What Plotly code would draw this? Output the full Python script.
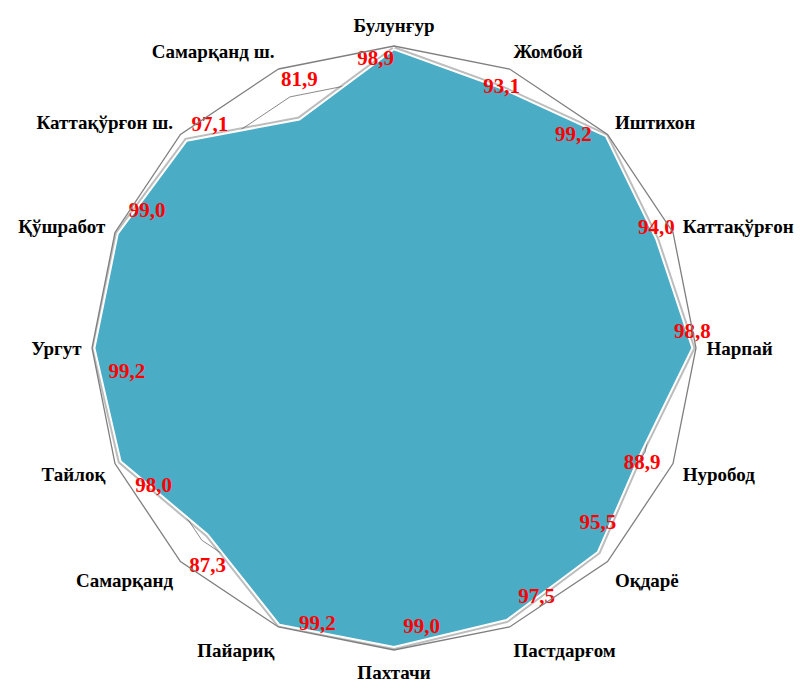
import plotly.graph_objects as go

categories = ["Булунғур", "Жомбой", "Иштихон", "Каттақўрғон", "Нарпай", "Нуробод",
              "Оқдарё", "Пастдарғом", "Пахтачи", "Пайариқ", "Самарқанд", "Тайлоқ",
              "Ургут", "Қўшработ", "Каттақўрғон ш.", "Самарқанд ш."]
values = [98.9, 93.1, 99.2, 94.0, 98.8, 88.9, 95.5, 97.5, 99.0, 99.2, 87.3, 98.0,
          99.2, 99.0, 97.1, 81.9]
value_labels = ["98,9", "93,1", "99,2", "94,0", "98,8", "88,9", "95,5", "97,5", "99,0",
                "99,2", "87,3", "98,0", "99,2", "99,0", "97,1", "81,9"]

# label placement styling (text anchor side and invisible-marker spacing)
label_positions = ["bottom left", "middle center", "middle left", "top center", "top center",
                   "bottom center", "top center", "top right", "top right", "middle right",
                   "bottom center", "bottom right", "bottom right", "top right", "top right",
                   "top center"]
label_spacing = [0, 0, 21, 0, 6, 3, 27, 17, 13, 30, 33, 22, 21, 16, 6, 43]

r_closed = values + [values[0]]
theta_closed = categories + [categories[0]]

fig = go.Figure()

# shadow under the filled area
fig.add_trace(go.Scatterpolar(
    r=r_closed, theta=theta_closed, mode="lines",
    line=dict(color="rgba(90,90,90,0.40)", width=6),
    hoverinfo="skip", showlegend=False,
))

fig.add_trace(go.Scatterpolar(
    r=r_closed, theta=theta_closed, mode="lines",
    fill="toself", fillcolor="#4BACC6",
    line=dict(color="white", width=2),
    showlegend=False,
))

fig.add_trace(go.Scatterpolar(
    r=values, theta=categories, mode="markers+text",
    marker=dict(size=label_spacing, color="rgba(0,0,0,0)",
                line=dict(width=0, color="rgba(0,0,0,0)")),
    text=value_labels, textposition=label_positions,
    textfont=dict(family="Liberation Serif", size=21, color="#FF0000", weight="bold"),
    showlegend=False, hoverinfo="skip",
))

fig.update_layout(
    width=803, height=684,
    paper_bgcolor="white", plot_bgcolor="white",
    margin=dict(l=73, r=104, t=38, b=42),
    polar=dict(
        bgcolor="white",
        gridshape="linear",
        radialaxis=dict(range=[0, 100], dtick=10, showticklabels=False, ticks="",
                        showline=False, gridcolor="#8a8a8a", gridwidth=1),
        angularaxis=dict(direction="clockwise", rotation=90, showgrid=False,
                         showline=True, linecolor="#7f7f7f", linewidth=1.3,
                         ticks="outside", ticklen=6, tickcolor="rgba(0,0,0,0)",
                         tickfont=dict(family="Liberation Serif", size=19, color="black",
                                       weight="bold")),
    ),
)

fig.write_html("out.html")
